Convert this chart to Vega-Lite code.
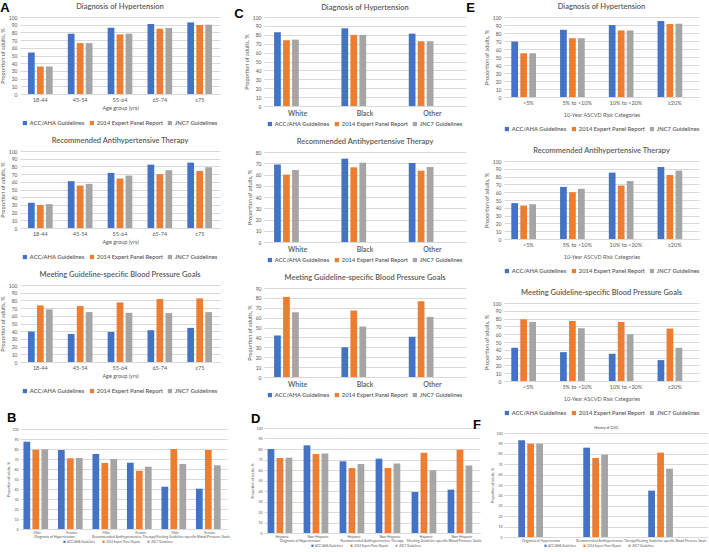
{
  "$schema": "https://vega.github.io/schema/vega-lite/v6.json",
  "background": "white",
  "padding": {"left": 0, "top": 1, "right": 0, "bottom": 0},
  "config": {
    "font": "Lato",
    "view": {"stroke": null},
    "title": {"fontSize": 7.5, "fontWeight": 600, "color": "#595959", "offset": 5, "frame": "group"},
    "axis": {"labelColor": "#595959", "titleColor": "#595959", "labelFontSize": 5.5, "titleFontSize": 5.5, "titleFontWeight": "normal", "gridColor": "#d9d9d9", "domainColor": "#d9d9d9", "ticks": false, "labelPadding": 3, "titlePadding": 3},
    "axisY": {"domain": false, "labelFontSize": 5},
    "axisX": {"grid": false, "labelAngle": 0},
    "header": {"labelFontSize": 3.5, "labelColor": "#595959", "labelPadding": 1},
    "legend": {"orient": "bottom", "direction": "horizontal", "symbolType": "square", "labelColor": "#595959", "symbolStrokeWidth": 0, "layout": {"bottom": {"anchor": "middle"}}}
  },
  "datasets": {
    "age": [
      {"m":"dx","g":"18-44","k":"ACC/AHA Guidelines","v":53.9},{"m":"dx","g":"18-44","k":"2014 Expert Panel Report","v":35.7},{"m":"dx","g":"18-44","k":"JNC7 Guidelines","v":35.7},
      {"m":"dx","g":"45-54","k":"ACC/AHA Guidelines","v":78.3},{"m":"dx","g":"45-54","k":"2014 Expert Panel Report","v":66.1},{"m":"dx","g":"45-54","k":"JNC7 Guidelines","v":66.1},
      {"m":"dx","g":"55-64","k":"ACC/AHA Guidelines","v":86.1},{"m":"dx","g":"55-64","k":"2014 Expert Panel Report","v":77.4},{"m":"dx","g":"55-64","k":"JNC7 Guidelines","v":78.3},
      {"m":"dx","g":"65-74","k":"ACC/AHA Guidelines","v":90.9},{"m":"dx","g":"65-74","k":"2014 Expert Panel Report","v":84.8},{"m":"dx","g":"65-74","k":"JNC7 Guidelines","v":85.7},
      {"m":"dx","g":"≥75","k":"ACC/AHA Guidelines","v":93.0},{"m":"dx","g":"≥75","k":"2014 Expert Panel Report","v":89.6},{"m":"dx","g":"≥75","k":"JNC7 Guidelines","v":90.0},
      {"m":"rx","g":"18-44","k":"ACC/AHA Guidelines","v":32.8},{"m":"rx","g":"18-44","k":"2014 Expert Panel Report","v":29.7},{"m":"rx","g":"18-44","k":"JNC7 Guidelines","v":31.0},
      {"m":"rx","g":"45-54","k":"ACC/AHA Guidelines","v":60.8},{"m":"rx","g":"45-54","k":"2014 Expert Panel Report","v":55.2},{"m":"rx","g":"45-54","k":"JNC7 Guidelines","v":57.3},
      {"m":"rx","g":"55-64","k":"ACC/AHA Guidelines","v":71.6},{"m":"rx","g":"55-64","k":"2014 Expert Panel Report","v":64.2},{"m":"rx","g":"55-64","k":"JNC7 Guidelines","v":68.1},
      {"m":"rx","g":"65-74","k":"ACC/AHA Guidelines","v":82.3},{"m":"rx","g":"65-74","k":"2014 Expert Panel Report","v":69.8},{"m":"rx","g":"65-74","k":"JNC7 Guidelines","v":75.0},
      {"m":"rx","g":"≥75","k":"ACC/AHA Guidelines","v":84.9},{"m":"rx","g":"≥75","k":"2014 Expert Panel Report","v":74.1},{"m":"rx","g":"≥75","k":"JNC7 Guidelines","v":78.9},
      {"m":"bp","g":"18-44","k":"ACC/AHA Guidelines","v":39.6},{"m":"bp","g":"18-44","k":"2014 Expert Panel Report","v":73.5},{"m":"bp","g":"18-44","k":"JNC7 Guidelines","v":68.3},
      {"m":"bp","g":"45-54","k":"ACC/AHA Guidelines","v":36.5},{"m":"bp","g":"45-54","k":"2014 Expert Panel Report","v":72.6},{"m":"bp","g":"45-54","k":"JNC7 Guidelines","v":64.8},
      {"m":"bp","g":"55-64","k":"ACC/AHA Guidelines","v":39.1},{"m":"bp","g":"55-64","k":"2014 Expert Panel Report","v":77.4},{"m":"bp","g":"55-64","k":"JNC7 Guidelines","v":63.9},
      {"m":"bp","g":"65-74","k":"ACC/AHA Guidelines","v":41.3},{"m":"bp","g":"65-74","k":"2014 Expert Panel Report","v":81.7},{"m":"bp","g":"65-74","k":"JNC7 Guidelines","v":63.5},
      {"m":"bp","g":"≥75","k":"ACC/AHA Guidelines","v":44.3},{"m":"bp","g":"≥75","k":"2014 Expert Panel Report","v":82.6},{"m":"bp","g":"≥75","k":"JNC7 Guidelines","v":64.8}
    ],
    "race": [
      {"m":"dx","g":"White","k":"ACC/AHA Guidelines","v":82.8},{"m":"dx","g":"White","k":"2014 Expert Panel Report","v":73.9},{"m":"dx","g":"White","k":"JNC7 Guidelines","v":74.6},
      {"m":"dx","g":"Black","k":"ACC/AHA Guidelines","v":87.3},{"m":"dx","g":"Black","k":"2014 Expert Panel Report","v":79.9},{"m":"dx","g":"Black","k":"JNC7 Guidelines","v":79.9},
      {"m":"dx","g":"Other","k":"ACC/AHA Guidelines","v":81.3},{"m":"dx","g":"Other","k":"2014 Expert Panel Report","v":72.8},{"m":"dx","g":"Other","k":"JNC7 Guidelines","v":72.8},
      {"m":"rx","g":"White","k":"ACC/AHA Guidelines","v":69.0},{"m":"rx","g":"White","k":"2014 Expert Panel Report","v":59.9},{"m":"rx","g":"White","k":"JNC7 Guidelines","v":64.0},
      {"m":"rx","g":"Black","k":"ACC/AHA Guidelines","v":74.1},{"m":"rx","g":"Black","k":"2014 Expert Panel Report","v":66.4},{"m":"rx","g":"Black","k":"JNC7 Guidelines","v":70.5},
      {"m":"rx","g":"Other","k":"ACC/AHA Guidelines","v":70.2},{"m":"rx","g":"Other","k":"2014 Expert Panel Report","v":63.4},{"m":"rx","g":"Other","k":"JNC7 Guidelines","v":66.7},
      {"m":"bp","g":"White","k":"ACC/AHA Guidelines","v":42.0},{"m":"bp","g":"White","k":"2014 Expert Panel Report","v":81.0},{"m":"bp","g":"White","k":"JNC7 Guidelines","v":65.5},
      {"m":"bp","g":"Black","k":"ACC/AHA Guidelines","v":30.0},{"m":"bp","g":"Black","k":"2014 Expert Panel Report","v":67.2},{"m":"bp","g":"Black","k":"JNC7 Guidelines","v":51.0},
      {"m":"bp","g":"Other","k":"ACC/AHA Guidelines","v":40.7},{"m":"bp","g":"Other","k":"2014 Expert Panel Report","v":76.6},{"m":"bp","g":"Other","k":"JNC7 Guidelines","v":60.8}
    ],
    "risk": [
      {"m":"dx","g":"<5%","k":"ACC/AHA Guidelines","v":69.3},{"m":"dx","g":"<5%","k":"2014 Expert Panel Report","v":54.6},{"m":"dx","g":"<5%","k":"JNC7 Guidelines","v":54.6},
      {"m":"dx","g":"5% to <10%","k":"ACC/AHA Guidelines","v":84.0},{"m":"dx","g":"5% to <10%","k":"2014 Expert Panel Report","v":73.5},{"m":"dx","g":"5% to <10%","k":"JNC7 Guidelines","v":73.5},
      {"m":"dx","g":"10% to <20%","k":"ACC/AHA Guidelines","v":89.9},{"m":"dx","g":"10% to <20%","k":"2014 Expert Panel Report","v":83.2},{"m":"dx","g":"10% to <20%","k":"JNC7 Guidelines","v":83.2},
      {"m":"dx","g":"≥20%","k":"ACC/AHA Guidelines","v":95.0},{"m":"dx","g":"≥20%","k":"2014 Expert Panel Report","v":91.2},{"m":"dx","g":"≥20%","k":"JNC7 Guidelines","v":91.6},
      {"m":"rx","g":"<5%","k":"ACC/AHA Guidelines","v":46.0},{"m":"rx","g":"<5%","k":"2014 Expert Panel Report","v":43.0},{"m":"rx","g":"<5%","k":"JNC7 Guidelines","v":44.7},
      {"m":"rx","g":"5% to <10%","k":"ACC/AHA Guidelines","v":66.8},{"m":"rx","g":"5% to <10%","k":"2014 Expert Panel Report","v":60.0},{"m":"rx","g":"5% to <10%","k":"JNC7 Guidelines","v":64.3},
      {"m":"rx","g":"10% to <20%","k":"ACC/AHA Guidelines","v":85.1},{"m":"rx","g":"10% to <20%","k":"2014 Expert Panel Report","v":68.5},{"m":"rx","g":"10% to <20%","k":"JNC7 Guidelines","v":74.5},
      {"m":"rx","g":"≥20%","k":"ACC/AHA Guidelines","v":92.3},{"m":"rx","g":"≥20%","k":"2014 Expert Panel Report","v":82.1},{"m":"rx","g":"≥20%","k":"JNC7 Guidelines","v":87.7},
      {"m":"bp","g":"<5%","k":"ACC/AHA Guidelines","v":42.6},{"m":"bp","g":"<5%","k":"2014 Expert Panel Report","v":79.1},{"m":"bp","g":"<5%","k":"JNC7 Guidelines","v":75.7},
      {"m":"bp","g":"5% to <10%","k":"ACC/AHA Guidelines","v":37.0},{"m":"bp","g":"5% to <10%","k":"2014 Expert Panel Report","v":77.0},{"m":"bp","g":"5% to <10%","k":"JNC7 Guidelines","v":67.7},
      {"m":"bp","g":"10% to <20%","k":"ACC/AHA Guidelines","v":34.9},{"m":"bp","g":"10% to <20%","k":"2014 Expert Panel Report","v":75.7},{"m":"bp","g":"10% to <20%","k":"JNC7 Guidelines","v":60.0},
      {"m":"bp","g":"≥20%","k":"ACC/AHA Guidelines","v":26.8},{"m":"bp","g":"≥20%","k":"2014 Expert Panel Report","v":67.2},{"m":"bp","g":"≥20%","k":"JNC7 Guidelines","v":42.6}
    ],
    "sex": [
      {"m":"Diagnosis of Hypertension","g":"Male","k":"ACC/AHA Guidelines","v":87.3},{"m":"Diagnosis of Hypertension","g":"Male","k":"2014 Expert Panel Report","v":79.3},{"m":"Diagnosis of Hypertension","g":"Male","k":"JNC7 Guidelines","v":79.7},
      {"m":"Diagnosis of Hypertension","g":"Female","k":"ACC/AHA Guidelines","v":79.0},{"m":"Diagnosis of Hypertension","g":"Female","k":"2014 Expert Panel Report","v":70.7},{"m":"Diagnosis of Hypertension","g":"Female","k":"JNC7 Guidelines","v":71.0},
      {"m":"Recommended Antihypertensive Therapy","g":"Male","k":"ACC/AHA Guidelines","v":75.0},{"m":"Recommended Antihypertensive Therapy","g":"Male","k":"2014 Expert Panel Report","v":66.0},{"m":"Recommended Antihypertensive Therapy","g":"Male","k":"JNC7 Guidelines","v":70.0},
      {"m":"Recommended Antihypertensive Therapy","g":"Female","k":"ACC/AHA Guidelines","v":66.3},{"m":"Recommended Antihypertensive Therapy","g":"Female","k":"2014 Expert Panel Report","v":58.3},{"m":"Recommended Antihypertensive Therapy","g":"Female","k":"JNC7 Guidelines","v":62.3},
      {"m":"Meeting Guideline-specific Blood Pressure Goals","g":"Male","k":"ACC/AHA Guidelines","v":42.3},{"m":"Meeting Guideline-specific Blood Pressure Goals","g":"Male","k":"2014 Expert Panel Report","v":80.0},{"m":"Meeting Guideline-specific Blood Pressure Goals","g":"Male","k":"JNC7 Guidelines","v":65.0},
      {"m":"Meeting Guideline-specific Blood Pressure Goals","g":"Female","k":"ACC/AHA Guidelines","v":40.3},{"m":"Meeting Guideline-specific Blood Pressure Goals","g":"Female","k":"2014 Expert Panel Report","v":79.0},{"m":"Meeting Guideline-specific Blood Pressure Goals","g":"Female","k":"JNC7 Guidelines","v":63.7}
    ],
    "eth": [
      {"m":"Diagnosis of Hypertension","g":"Hispanic","k":"ACC/AHA Guidelines","v":80.0},{"m":"Diagnosis of Hypertension","g":"Hispanic","k":"2014 Expert Panel Report","v":71.4},{"m":"Diagnosis of Hypertension","g":"Hispanic","k":"JNC7 Guidelines","v":71.7},
      {"m":"Diagnosis of Hypertension","g":"Non-Hispanic","k":"ACC/AHA Guidelines","v":83.5},{"m":"Diagnosis of Hypertension","g":"Non-Hispanic","k":"2014 Expert Panel Report","v":75.2},{"m":"Diagnosis of Hypertension","g":"Non-Hispanic","k":"JNC7 Guidelines","v":75.6},
      {"m":"Recommended Antihypertensive Therapy","g":"Hispanic","k":"ACC/AHA Guidelines","v":68.3},{"m":"Recommended Antihypertensive Therapy","g":"Hispanic","k":"2014 Expert Panel Report","v":61.9},{"m":"Recommended Antihypertensive Therapy","g":"Hispanic","k":"JNC7 Guidelines","v":65.7},
      {"m":"Recommended Antihypertensive Therapy","g":"Non-Hispanic","k":"ACC/AHA Guidelines","v":70.8},{"m":"Recommended Antihypertensive Therapy","g":"Non-Hispanic","k":"2014 Expert Panel Report","v":61.9},{"m":"Recommended Antihypertensive Therapy","g":"Non-Hispanic","k":"JNC7 Guidelines","v":66.3},
      {"m":"Meeting Guideline-specific Blood Pressure Goals","g":"Hispanic","k":"ACC/AHA Guidelines","v":39.0},{"m":"Meeting Guideline-specific Blood Pressure Goals","g":"Hispanic","k":"2014 Expert Panel Report","v":76.5},{"m":"Meeting Guideline-specific Blood Pressure Goals","g":"Hispanic","k":"JNC7 Guidelines","v":59.7},
      {"m":"Meeting Guideline-specific Blood Pressure Goals","g":"Non-Hispanic","k":"ACC/AHA Guidelines","v":41.3},{"m":"Meeting Guideline-specific Blood Pressure Goals","g":"Non-Hispanic","k":"2014 Expert Panel Report","v":79.4},{"m":"Meeting Guideline-specific Blood Pressure Goals","g":"Non-Hispanic","k":"JNC7 Guidelines","v":64.4}
    ],
    "cvd": [
      {"g":"Diagnosis of Hypertension","k":"ACC/AHA Guidelines","v":93.0},{"g":"Diagnosis of Hypertension","k":"2014 Expert Panel Report","v":89.7},{"g":"Diagnosis of Hypertension","k":"JNC7 Guidelines","v":89.7},
      {"g":"Recommended Antihypertensive Therapy","k":"ACC/AHA Guidelines","v":85.9},{"g":"Recommended Antihypertensive Therapy","k":"2014 Expert Panel Report","v":76.0},{"g":"Recommended Antihypertensive Therapy","k":"JNC7 Guidelines","v":79.2},
      {"g":"Meeting Guideline-specific Blood Pressure Goals","k":"ACC/AHA Guidelines","v":44.6},{"g":"Meeting Guideline-specific Blood Pressure Goals","k":"2014 Expert Panel Report","v":81.1},{"g":"Meeting Guideline-specific Blood Pressure Goals","k":"JNC7 Guidelines","v":65.7}
    ]
  },
  "spacing": 4,
  "resolve": {"scale": {"color": "independent"}, "legend": {"color": "independent"}},
  "hconcat": [
    {
      "spacing": 18,
      "resolve": {"scale": {"color": "independent"}, "legend": {"color": "independent"}},
      "vconcat": [
        {
          "title": {"text": "A", "anchor": "start", "frame": "bounds", "fontSize": 13, "fontWeight": "bold", "color": "#000000", "font": "Liberation Sans", "offset": -12},
          "spacing": 10,
          "resolve": {"scale": {"color": "independent"}, "legend": {"color": "independent"}},
          "vconcat": [
            {
              "title": "Diagnosis of Hypertension",
              "width": 200, "height": 77,
              "data": {"name": "age"},
              "transform": [{"filter": "datum.m === 'dx'"}],
              "mark": "bar",
              "encoding": {
                "x": {"field": "g", "type": "nominal", "sort": null, "title": "Age group (yrs)", "scale": {"paddingInner": 0.38, "paddingOuter": 0.2}},
                "xOffset": {"field": "k", "sort": null, "scale": {"paddingInner": 0.25}},
                "y": {"field": "v", "type": "quantitative", "scale": {"domain": [0, 100]}, "axis": {"values": [0,10,20,30,40,50,60,70,80,90,100], "title": "Proportion of adults, %"}},
                "color": {"field": "k", "type": "nominal", "sort": null, "scale": {"range": ["#4472C4", "#ED7D31", "#A5A5A5"]}, "legend": {"title": null, "labelFontSize": 5.8, "labelFontWeight": 600, "symbolSize": 18, "columnPadding": 4, "labelOffset": 2, "offset": 9}}
              }
            },
            {
              "title": "Recommended Antihypertensive Therapy",
              "width": 200, "height": 77,
              "data": {"name": "age"},
              "transform": [{"filter": "datum.m === 'rx'"}],
              "mark": "bar",
              "encoding": {
                "x": {"field": "g", "type": "nominal", "sort": null, "title": "Age group (yrs)", "scale": {"paddingInner": 0.38, "paddingOuter": 0.2}},
                "xOffset": {"field": "k", "sort": null, "scale": {"paddingInner": 0.25}},
                "y": {"field": "v", "type": "quantitative", "scale": {"domain": [0, 100]}, "axis": {"values": [0,10,20,30,40,50,60,70,80,90,100], "title": "Proportion of adults, %"}},
                "color": {"field": "k", "type": "nominal", "sort": null, "scale": {"range": ["#4472C4", "#ED7D31", "#A5A5A5"]}, "legend": {"title": null, "labelFontSize": 5.8, "labelFontWeight": 600, "symbolSize": 18, "columnPadding": 4, "labelOffset": 2, "offset": 9}}
              }
            },
            {
              "title": "Meeting Guideline-specific Blood Pressure Goals",
              "width": 200, "height": 77,
              "data": {"name": "age"},
              "transform": [{"filter": "datum.m === 'bp'"}],
              "mark": "bar",
              "encoding": {
                "x": {"field": "g", "type": "nominal", "sort": null, "title": "Age group (yrs)", "scale": {"paddingInner": 0.38, "paddingOuter": 0.2}},
                "xOffset": {"field": "k", "sort": null, "scale": {"paddingInner": 0.25}},
                "y": {"field": "v", "type": "quantitative", "scale": {"domain": [0, 100]}, "axis": {"values": [0,10,20,30,40,50,60,70,80,90,100], "title": "Proportion of adults, %"}},
                "color": {"field": "k", "type": "nominal", "sort": null, "scale": {"range": ["#4472C4", "#ED7D31", "#A5A5A5"]}, "legend": {"title": null, "labelFontSize": 5.8, "labelFontWeight": 600, "symbolSize": 18, "columnPadding": 4, "labelOffset": 2, "offset": 9}}
              }
            }
          ]
        },
        {
          "title": {"text": "B", "anchor": "start", "frame": "bounds", "fontSize": 13, "fontWeight": "bold", "color": "#000000", "font": "Liberation Sans", "offset": 2},
          "data": {"name": "sex"},
          "facet": {"column": {"field": "m", "type": "nominal", "title": null, "sort": ["Diagnosis of Hypertension", "Recommended Antihypertensive Therapy", "Meeting Guideline-specific Blood Pressure Goals"], "header": {"labelOrient": "bottom"}}},
          "spacing": 0,
          "spec": {
            "width": 69, "height": 100,
            "mark": "bar",
            "encoding": {
              "x": {"field": "g", "type": "nominal", "sort": null, "title": null, "axis": {"labelFontSize": 3.5, "labelPadding": 1}, "scale": {"paddingInner": 0.2, "paddingOuter": 0.1}},
              "xOffset": {"field": "k", "sort": null, "scale": {"paddingInner": 0.35}},
              "y": {"field": "v", "type": "quantitative", "scale": {"domain": [0, 100]}, "axis": {"values": [0,10,20,30,40,50,60,70,80,90,100], "title": "Proportion of adults, %", "labelFontSize": 3.5, "titleFontSize": 3.5, "labelPadding": 2, "titlePadding": 1}},
              "color": {"field": "k", "type": "nominal", "sort": null, "scale": {"range": ["#4472C4", "#ED7D31", "#A5A5A5"]}, "legend": {"title": null, "labelFontSize": 3, "symbolSize": 5, "columnPadding": 6, "labelOffset": 1, "offset": 2}}
            }
          }
        }
      ]
    },
    {
      "spacing": -16,
      "resolve": {"scale": {"color": "independent"}, "legend": {"color": "independent"}},
      "hconcat": [
        {
          "spacing": 15,
          "resolve": {"scale": {"color": "independent"}, "legend": {"color": "independent"}},
          "vconcat": [
            {
              "title": {"text": "C", "anchor": "start", "frame": "bounds", "fontSize": 13, "fontWeight": "bold", "color": "#000000", "font": "Liberation Sans", "offset": -17, "dx": -10},
              "spacing": 10,
              "resolve": {"scale": {"color": "independent"}, "legend": {"color": "independent"}},
              "vconcat": [
                {
                  "title": {"text": "Diagnosis of Hypertension", "offset": 4},
                  "width": 202, "height": 89,
                  "data": {"name": "race"},
                  "transform": [{"filter": "datum.m === 'dx'"}],
                  "mark": "bar",
                  "encoding": {
                    "x": {"field": "g", "type": "nominal", "sort": null, "title": null, "axis": {"labelFontSize": 7, "labelFontWeight": 600}, "scale": {"paddingInner": 0.3, "paddingOuter": 0.15}},
                    "xOffset": {"field": "k", "sort": null, "scale": {"paddingInner": 0.25}},
                    "y": {"field": "v", "type": "quantitative", "scale": {"domain": [0, 100]}, "axis": {"values": [0,10,20,30,40,50,60,70,80,90,100], "title": "Proportion of adults, %"}},
                    "color": {"field": "k", "type": "nominal", "sort": null, "scale": {"range": ["#4472C4", "#ED7D31", "#A5A5A5"]}, "legend": {"title": null, "labelFontSize": 5.8, "labelFontWeight": 600, "symbolSize": 18, "columnPadding": 4, "labelOffset": 2, "offset": 5}}
                  }
                },
                {
                  "title": "Recommended Antihypertensive Therapy",
                  "width": 202, "height": 90,
                  "data": {"name": "race"},
                  "transform": [{"filter": "datum.m === 'rx'"}],
                  "mark": "bar",
                  "encoding": {
                    "x": {"field": "g", "type": "nominal", "sort": null, "title": null, "axis": {"labelFontSize": 7, "labelFontWeight": 600}, "scale": {"paddingInner": 0.3, "paddingOuter": 0.15}},
                    "xOffset": {"field": "k", "sort": null, "scale": {"paddingInner": 0.25}},
                    "y": {"field": "v", "type": "quantitative", "scale": {"domain": [0, 80]}, "axis": {"values": [0,10,20,30,40,50,60,70,80], "title": "Proportion of adults, %"}},
                    "color": {"field": "k", "type": "nominal", "sort": null, "scale": {"range": ["#4472C4", "#ED7D31", "#A5A5A5"]}, "legend": {"title": null, "labelFontSize": 5.8, "labelFontWeight": 600, "symbolSize": 18, "columnPadding": 4, "labelOffset": 2, "offset": 5}}
                  }
                },
                {
                  "title": "Meeting Guideline-specific Blood Pressure Goals",
                  "width": 202, "height": 89,
                  "data": {"name": "race"},
                  "transform": [{"filter": "datum.m === 'bp'"}],
                  "mark": "bar",
                  "encoding": {
                    "x": {"field": "g", "type": "nominal", "sort": null, "title": null, "axis": {"labelFontSize": 7, "labelFontWeight": 600}, "scale": {"paddingInner": 0.3, "paddingOuter": 0.15}},
                    "xOffset": {"field": "k", "sort": null, "scale": {"paddingInner": 0.25}},
                    "y": {"field": "v", "type": "quantitative", "scale": {"domain": [0, 90]}, "axis": {"values": [0,10,20,30,40,50,60,70,80,90], "title": "Proportion of adults, %"}},
                    "color": {"field": "k", "type": "nominal", "sort": null, "scale": {"range": ["#4472C4", "#ED7D31", "#A5A5A5"]}, "legend": {"title": null, "labelFontSize": 5.8, "labelFontWeight": 600, "symbolSize": 18, "columnPadding": 4, "labelOffset": 2, "offset": 5}}
                  }
                }
              ]
            },
            {
              "title": {"text": "D", "anchor": "start", "frame": "bounds", "fontSize": 13, "fontWeight": "bold", "color": "#000000", "font": "Liberation Sans", "offset": 0},
              "data": {"name": "eth"},
              "facet": {"column": {"field": "m", "type": "nominal", "title": null, "sort": ["Diagnosis of Hypertension", "Recommended Antihypertensive Therapy", "Meeting Guideline-specific Blood Pressure Goals"], "header": {"labelOrient": "bottom"}}},
              "spacing": 0,
              "spec": {
                "width": 72, "height": 105,
                "mark": "bar",
                "encoding": {
                  "x": {"field": "g", "type": "nominal", "sort": null, "title": null, "axis": {"labelFontSize": 3.5, "labelPadding": 1}, "scale": {"paddingInner": 0.2, "paddingOuter": 0.1}},
                  "xOffset": {"field": "k", "sort": null, "scale": {"paddingInner": 0.35}},
                  "y": {"field": "v", "type": "quantitative", "scale": {"domain": [0, 100]}, "axis": {"values": [0,10,20,30,40,50,60,70,80,90,100], "title": "Proportion of adults, %", "labelFontSize": 3.5, "titleFontSize": 3.5, "labelPadding": 2, "titlePadding": 1}},
                  "color": {"field": "k", "type": "nominal", "sort": null, "scale": {"range": ["#4472C4", "#ED7D31", "#A5A5A5"]}, "legend": {"title": null, "labelFontSize": 3, "symbolSize": 5, "columnPadding": 6, "labelOffset": 1, "offset": 2}}
                }
              }
            }
          ]
        },
        {
          "spacing": 2,
          "resolve": {"scale": {"color": "independent"}, "legend": {"color": "independent"}},
          "vconcat": [
            {
              "title": {"text": "E", "anchor": "start", "frame": "bounds", "fontSize": 13, "fontWeight": "bold", "color": "#000000", "font": "Liberation Sans", "offset": -12, "dx": -18},
              "spacing": 14,
              "resolve": {"scale": {"color": "independent"}, "legend": {"color": "independent"}},
              "vconcat": [
                {
                  "title": "Diagnosis of Hypertension",
                  "width": 195, "height": 80,
                  "data": {"name": "risk"},
                  "transform": [{"filter": "datum.m === 'dx'"}],
                  "mark": "bar",
                  "encoding": {
                    "x": {"field": "g", "type": "nominal", "sort": null, "title": "10-Year ASCVD Risk Categories", "axis": {"titlePadding": 7}, "scale": {"paddingInner": 0.3, "paddingOuter": 0.15}},
                    "xOffset": {"field": "k", "sort": null, "scale": {"paddingInner": 0.25}},
                    "y": {"field": "v", "type": "quantitative", "scale": {"domain": [0, 100]}, "axis": {"values": [0,10,20,30,40,50,60,70,80,90,100], "title": "Proportion of adults, %"}},
                    "color": {"field": "k", "type": "nominal", "sort": null, "scale": {"range": ["#4472C4", "#ED7D31", "#A5A5A5"]}, "legend": {"title": null, "labelFontSize": 5.8, "labelFontWeight": 600, "symbolSize": 18, "columnPadding": 4, "labelOffset": 2, "offset": 8}}
                  }
                },
                {
                  "title": "Recommended Antihypertensive Therapy",
                  "width": 195, "height": 78,
                  "data": {"name": "risk"},
                  "transform": [{"filter": "datum.m === 'rx'"}],
                  "mark": "bar",
                  "encoding": {
                    "x": {"field": "g", "type": "nominal", "sort": null, "title": "10-Year ASCVD Risk Categories", "axis": {"titlePadding": 7}, "scale": {"paddingInner": 0.3, "paddingOuter": 0.15}},
                    "xOffset": {"field": "k", "sort": null, "scale": {"paddingInner": 0.25}},
                    "y": {"field": "v", "type": "quantitative", "scale": {"domain": [0, 100]}, "axis": {"values": [0,10,20,30,40,50,60,70,80,90,100], "title": "Proportion of adults, %"}},
                    "color": {"field": "k", "type": "nominal", "sort": null, "scale": {"range": ["#4472C4", "#ED7D31", "#A5A5A5"]}, "legend": {"title": null, "labelFontSize": 5.8, "labelFontWeight": 600, "symbolSize": 18, "columnPadding": 4, "labelOffset": 2, "offset": 8}}
                  }
                },
                {
                  "title": "Meeting Guideline-specific Blood Pressure Goals",
                  "width": 195, "height": 78,
                  "data": {"name": "risk"},
                  "transform": [{"filter": "datum.m === 'bp'"}],
                  "mark": "bar",
                  "encoding": {
                    "x": {"field": "g", "type": "nominal", "sort": null, "title": "10-Year ASCVD Risk Categories", "axis": {"titlePadding": 7}, "scale": {"paddingInner": 0.3, "paddingOuter": 0.15}},
                    "xOffset": {"field": "k", "sort": null, "scale": {"paddingInner": 0.25}},
                    "y": {"field": "v", "type": "quantitative", "scale": {"domain": [0, 100]}, "axis": {"values": [0,10,20,30,40,50,60,70,80,90,100], "title": "Proportion of adults, %"}},
                    "color": {"field": "k", "type": "nominal", "sort": null, "scale": {"range": ["#4472C4", "#ED7D31", "#A5A5A5"]}, "legend": {"title": null, "labelFontSize": 5.8, "labelFontWeight": 600, "symbolSize": 18, "columnPadding": 4, "labelOffset": 2, "offset": 8}}
                  }
                }
              ]
            },
            {
              "title": {"text": "F", "anchor": "start", "frame": "bounds", "fontSize": 13, "fontWeight": "bold", "color": "#000000", "font": "Liberation Sans", "offset": -6, "dx": -18},
              "vconcat": [
                {
                  "title": {"text": "History of CVD", "fontSize": 3.5, "offset": 2},
                  "width": 204, "height": 104,
                  "data": {"name": "cvd"},
                  "mark": "bar",
                  "encoding": {
                    "x": {"field": "g", "type": "nominal", "sort": null, "title": null, "axis": {"labelFontSize": 3.3, "labelPadding": 1}, "scale": {"paddingInner": 0.3, "paddingOuter": 0.22}},
                    "xOffset": {"field": "k", "sort": null, "scale": {"paddingInner": 0.2}},
                    "y": {"field": "v", "type": "quantitative", "scale": {"domain": [0, 100]}, "axis": {"values": [0,10,20,30,40,50,60,70,80,90,100], "title": "Proportion of adults, %", "labelFontSize": 3.5, "titleFontSize": 3.5, "labelPadding": 2, "titlePadding": 1}},
                    "color": {"field": "k", "type": "nominal", "sort": null, "scale": {"range": ["#4472C4", "#ED7D31", "#A5A5A5"]}, "legend": {"title": null, "labelFontSize": 3, "symbolSize": 5, "columnPadding": 6, "labelOffset": 1, "offset": 2}}
                  }
                }
              ]
            }
          ]
        }
      ]
    }
  ]
}
